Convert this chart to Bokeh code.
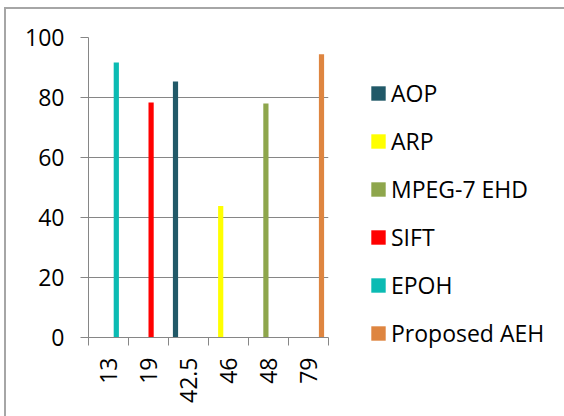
import numpy as np
from bokeh.plotting import figure
from bokeh.models import (ColumnDataSource, Range1d, FixedTicker, Legend, LegendItem,
                          InlineStyleSheet)
from bokeh.transform import dodge
from bokeh.embed import file_html
from bokeh.resources import INLINE

nan = float("nan")

# ---- data ----
categories = ["13", "19", "42.5", "46", "48", "79"]
series_names = ["AOP", "ARP", "MPEG-7 EHD", "SIFT", "EPOH", "Proposed AEH"]
aop = [nan, nan, 85.3, nan, nan, nan]
arp = [nan, nan, nan, 43.8, nan, nan]
mpeg7_ehd = [nan, nan, nan, nan, 78.0, nan]
sift = [nan, 78.3, nan, nan, nan, nan]
epoh = [91.7, nan, nan, nan, nan, nan]
proposed_aeh = [nan, nan, nan, nan, nan, 94.4]
y_ticks = [0, 20, 40, 60, 80, 100]

colors = ["#215968", "#FFFF00", "#8EA64C", "#FF0000", "#0BBBB3", "#DE8540"]
series_values = [aop, arp, mpeg7_ehd, sift, epoh, proposed_aeh]

FONT = "Open Sans"
GRAY = "#868686"

data = {"x": list(range(len(categories)))}
keys = []
for i, vals in enumerate(series_values):
    k = f"s{i}"
    keys.append(k)
    data[k] = vals
source = ColumnDataSource(data)

p = figure(frame_width=240, frame_height=300, output_backend="svg", toolbar_location=None,
           x_range=Range1d(-0.5, len(categories) - 0.5), y_range=Range1d(0, 100),
           min_border_left=88, min_border_right=236, min_border_top=37, min_border_bottom=79)
p.stylesheets = [InlineStyleSheet(css=(
    ":host::after { content: ''; position: absolute; left: 4px; top: 7px; right: 0; bottom: 0;"
    " border-left: 2px solid #A6A6A6; border-top: 2px solid #A6A6A6; pointer-events: none; z-index: 10; }"
))]
p.outline_line_color = None
p.background_fill_color = "white"
p.border_fill_color = "white"

bar_w = 0.13
renderers = []
for i, k in enumerate(keys):
    off = (i - (len(keys) - 1) / 2) * bar_w
    r = p.vbar(x=dodge("x", off, range=p.x_range), top=k, bottom=0, width=bar_w,
               source=source, fill_color=colors[i], line_color=None)
    renderers.append(r)

# x axis
xa = p.xaxis[0]
xa.ticker = FixedTicker(ticks=list(range(len(categories))),
                        minor_ticks=[i - 0.5 for i in range(len(categories) + 1)])
xa.major_label_overrides = {i: c for i, c in enumerate(categories)}
xa.major_tick_out = 0
xa.major_tick_in = 0
xa.minor_tick_out = 8
xa.minor_tick_in = 0
xa.minor_tick_line_color = GRAY
xa.axis_line_color = GRAY
xa.major_label_orientation = np.pi / 2
xa.major_label_standoff = 12
xa.major_label_text_font = FONT
xa.major_label_text_font_size = "23px"
xa.major_label_text_color = "black"

# y axis
ya = p.yaxis[0]
ya.ticker = FixedTicker(ticks=y_ticks, minor_ticks=[])
ya.major_tick_out = 8
ya.major_tick_in = 0
ya.major_tick_line_color = GRAY
ya.axis_line_color = GRAY
ya.major_label_standoff = 16
ya.major_label_text_font = FONT
ya.major_label_text_font_size = "23px"
ya.major_label_text_color = "black"

p.xgrid.visible = False
p.ygrid.grid_line_color = GRAY
p.ygrid.ticker = FixedTicker(ticks=y_ticks)

legend = Legend(items=[LegendItem(label=n, renderers=[r]) for n, r in zip(series_names, renderers)],
                location=(41, -12))
legend.label_text_font = FONT
legend.label_text_font_size = "23px"
legend.label_text_color = "black"
legend.glyph_width = 18
legend.glyph_height = 18
legend.label_height = 30
legend.label_standoff = 4
legend.spacing = 16
legend.padding = 0
legend.margin = 0
legend.border_line_color = None
legend.background_fill_alpha = 0
p.add_layout(legend, "right")

open("out.html", "w").write(file_html(p, INLINE))
